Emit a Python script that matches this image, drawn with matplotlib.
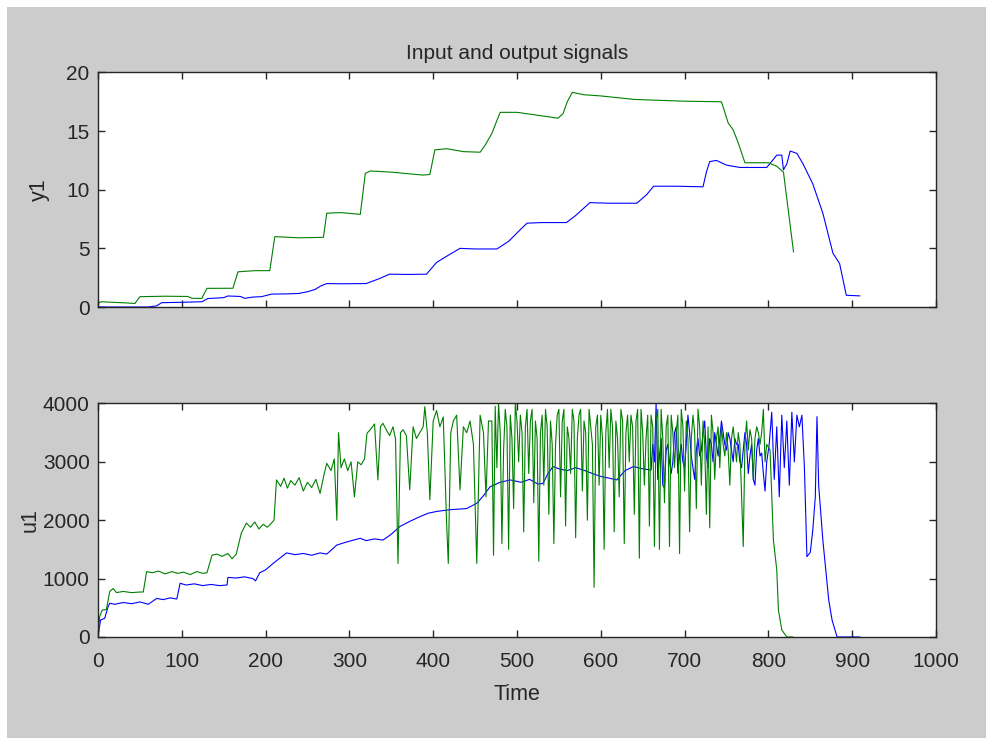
import matplotlib
matplotlib.use("Agg")
import matplotlib.pyplot as plt
from matplotlib.patches import Rectangle

# output signals (top panel)
t_y_green = [0, 4, 36, 44, 50, 80, 107, 112, 124, 130, 161, 167, 187, 205, 211, 226, 240,
             269, 273, 290, 313, 319, 325, 350, 388, 396, 402, 416, 436, 456, 462, 470,
             476, 480, 500, 520, 549, 555, 560, 566, 580, 600, 640, 700, 744, 752, 758,
             764, 772, 800, 810, 818, 830]
y_green = [0.31, 0.45, 0.34, 0.3, 0.88, 0.92, 0.9, 0.74, 0.74, 1.59, 1.6, 3.0, 3.1, 3.1,
           6.0, 5.95, 5.9, 5.94, 8.0, 8.05, 7.9, 11.4, 11.6, 11.5, 11.25, 11.3, 13.4, 13.5,
           13.25, 13.2, 13.8, 14.8, 15.9, 16.6, 16.6, 16.4, 16.1, 16.5, 17.5, 18.3, 18.1,
           18.0, 17.7, 17.55, 17.5, 15.7, 15.1, 14.0, 12.3, 12.3, 12.0, 11.5, 4.7]

t_y_blue = [0, 60, 70, 76, 100, 124, 131, 150, 155, 170, 175, 185, 195, 207, 225, 239, 250,
            259, 266, 273, 290, 320, 335, 348, 370, 392, 404, 420, 432, 450, 476, 490, 504,
            512, 530, 559, 570, 587, 610, 643, 655, 663, 690, 722, 726, 730, 738, 750, 766,
            798, 805, 810, 816, 818, 822, 826, 834, 841, 853, 865, 877, 885, 893, 909]
y_blue = [0, 0, 0.1, 0.37, 0.4, 0.45, 0.72, 0.8, 0.94, 0.9, 0.74, 0.85, 0.88, 1.1, 1.12,
          1.15, 1.3, 1.5, 1.8, 2.0, 1.98, 2.0, 2.4, 2.8, 2.78, 2.8, 3.8, 4.5, 5.0, 4.95, 4.95,
          5.6, 6.6, 7.15, 7.2, 7.2, 7.8, 8.9, 8.85, 8.85, 9.6, 10.3, 10.3, 10.25, 11.5, 12.4,
          12.5, 12.1, 11.9, 11.9, 12.5, 12.95, 12.95, 11.7, 12.2, 13.3, 13.1, 12.25, 10.5,
          8.0, 4.6, 3.7, 1.0, 0.95]

# input signals (bottom panel): hand-read start, 2-step sampled noisy middle, end
t_u_green_a = [0, 2, 5, 10, 14, 18, 22, 30, 40, 50, 54, 58, 65, 72, 80, 88, 95, 102, 110,
               118, 125, 130, 136, 142, 148, 155, 160, 165, 171, 177, 182, 187, 192, 197,
               202, 207, 210, 213, 218, 222, 226, 230, 235, 240, 245, 250, 255, 260, 265,
               270, 273, 278, 282, 285, 287, 290, 294, 298, 302, 306, 310, 314, 318, 321,
               325, 330, 334, 337, 340, 344, 348, 352, 355, 358, 361, 364, 368, 372, 376,
               380, 384, 388, 390, 393, 396, 400, 404, 408, 412, 416, 418, 421, 424, 428,
               432, 436, 440, 444, 448, 452, 456, 460, 463, 466]
u_green_a = [0, 350, 460, 470, 780, 830, 760, 780, 760, 770, 770, 1120, 1100, 1130, 1080,
             1120, 1090, 1110, 1070, 1120, 1090, 1100, 1400, 1420, 1380, 1430, 1340, 1420,
             1780, 1950, 1880, 1970, 1850, 1930, 1880, 1950, 2000, 2690, 2580, 2720, 2550,
             2680, 2600, 2730, 2500, 2650, 2560, 2700, 2460, 2800, 2975, 2850, 3050, 2000,
             3500, 2900, 3050, 2850, 3000, 2400, 3000, 2950, 3050, 3490, 3550, 3650, 2690,
             3600, 3660, 3550, 3450, 3600, 3400, 1260, 3500, 3550, 3450, 2520, 3600, 3400,
             3500, 3600, 3945, 3500, 2350, 3700, 3880, 3600, 3770, 1950, 1260, 3500, 3700,
             3800, 2520, 3600, 3500, 3700, 3300, 1260, 3800, 3500, 2400, 3700]
t_u_green_b = list(range(470, 800, 2))
u_green_b = [3700, 1400, 3950, 2900, 4000, 3500, 1600, 3200, 3900, 3600,
             1500, 3800, 3400, 2200, 4000, 3700, 3000, 3800, 3500, 1800,
             3600, 3900, 2800, 3700, 3900, 2300, 3700, 3400, 1300, 3500,
             3800, 2600, 3900, 3600, 2100, 3700, 3300, 1600, 3300, 3800,
             3900, 2400, 3700, 3900, 1900, 3600, 3400, 2800, 3900, 3700,
             1700, 3400, 3800, 3900, 2500, 3700, 3500, 2000, 3900, 3600,
             3300, 850, 3600, 3800, 2600, 3800, 3400, 1500, 3500, 3900,
             2900, 3900, 3600, 1800, 3700, 3400, 2400, 3900, 3700, 1600,
             3500, 3800, 3000, 3800, 3600, 2100, 3700, 3900, 1350, 3900,
             3500, 2600, 3400, 3800, 1900, 3800, 3600, 1550, 3700, 3900,
             1500, 3900, 3400, 2300, 3600, 3800, 1550, 3800, 3500, 2900,
             3500, 3800, 1430, 3900, 3600, 2500, 3700, 3400, 1800, 3400,
             3800, 3500, 2200, 3900, 3600, 2600, 3700, 3300, 2100, 3600,
             1870, 3800, 3500, 2700, 3400, 3600, 2900, 3600, 3300, 3100,
             3500, 3200, 2600, 3400, 3600, 3300, 3000, 3500, 3300, 2400,
             1550, 3300, 3700, 3200, 3550, 3400, 2700, 3400, 3600, 3500,
             3300, 3500, 3900, 3000, 3300]
t_u_green_c = [802, 806, 810, 812, 816, 822, 829]
u_green_c = [3200, 1660, 1150, 460, 120, 0, 0]

t_u_blue_a = [0, 3, 8, 12, 14, 20, 30, 40, 50, 60, 62, 70, 78, 86, 94, 98, 105, 115, 125,
              135, 145, 154, 155, 165, 175, 185, 188, 193, 200, 209, 217, 225, 235, 245,
              255, 265, 273, 285, 295, 305, 313, 320, 330, 340, 350, 360, 372, 384, 394,
              404, 420, 440, 452, 460, 468, 480, 492, 505, 515, 525, 531, 537, 543, 550,
              560, 570, 579, 590, 600, 610, 619, 629, 639, 650]
u_blue_a = [0, 290, 320, 520, 577, 560, 590, 570, 600, 560, 580, 660, 640, 670, 650, 920,
            890, 910, 880, 900, 880, 890, 1020, 1010, 1030, 1000, 960, 1100, 1150, 1260,
            1350, 1440, 1410, 1430, 1400, 1440, 1420, 1575, 1620, 1660, 1690, 1650, 1680,
            1660, 1760, 1890, 1980, 2060, 2120, 2150, 2180, 2200, 2290, 2420, 2575, 2650,
            2690, 2650, 2700, 2620, 2630, 2800, 2920, 2880, 2850, 2900, 2860, 2800, 2750,
            2720, 2690, 2850, 2920, 2880]
t_u_blue_b = list(range(660, 800, 2))
u_blue_b = [2860, 3300, 3000, 4000, 2700, 3100, 3400, 2600, 2550, 3200,
            3300, 3000, 2800, 3000, 3500, 3600, 2800, 3100, 3300, 3000,
            2900, 3300, 3800, 3500, 3100, 2900, 2700, 3200, 3400, 3100,
            3200, 3500, 3700, 3100, 2900, 3400, 3300, 3000, 3500, 3300,
            3100, 3400, 3700, 3500, 3300, 3200, 3500, 3400, 3200, 3000,
            3400, 3300, 3300, 3000, 2900, 3200, 3500, 3300, 2800, 3100,
            3300, 2700, 2600, 3200, 3400, 3100, 3150, 2800, 2500, 3000]
t_u_blue_c = [801, 804, 807, 810, 813, 816, 819, 822, 825, 828, 831, 834, 837, 840, 843,
              846, 850, 853, 856, 858, 860, 862, 865, 870, 872, 876, 882, 909]
u_blue_c = [3300, 3850, 2700, 3600, 2400, 3800, 2900, 3700, 2600, 3850, 3000, 3800, 3600,
            3800, 2900, 1375, 1450, 1830, 2400, 3775, 2600, 2230, 1660, 920, 634, 290, 0, 0]

t_u_green = t_u_green_a + t_u_green_b + t_u_green_c
u_green = u_green_a + u_green_b + u_green_c
t_u_blue = t_u_blue_a + t_u_blue_b + t_u_blue_c
u_blue = u_blue_a + u_blue_b + u_blue_c

blue = (0, 0, 1)
green = (0, 0.5, 0)
edge = '#262626'

plt.rcParams['font.family'] = ['Liberation Sans', 'DejaVu Sans']

fig = plt.figure(figsize=(9.87, 7.38), dpi=100, facecolor='#cccccc')
fig.patches.append(Rectangle((0, 1 - 7 / 738), 1, 7 / 738, transform=fig.transFigure,
                             facecolor='white', edgecolor='none'))
fig.patches.append(Rectangle((0, 0), 7 / 987, 1, transform=fig.transFigure,
                             facecolor='white', edgecolor='none'))

ax1 = fig.add_axes([0.0993, 0.584, 0.849, 0.3178])
ax2 = fig.add_axes([0.0993, 0.1369, 0.849, 0.3164])

ax1.plot(t_y_blue, y_blue, color=blue, lw=0.8)
ax1.plot(t_y_green, y_green, color=green, lw=0.8)
ax2.plot(t_u_blue, u_blue, color=blue, lw=0.8)
ax2.plot(t_u_green, u_green, color=green, lw=0.8)

ax1.set_ylim(0, 20)
ax1.set_yticks([0, 5, 10, 15, 20])
ax1.set_xticklabels([])
ax1.set_ylabel('y1', fontsize=15.5, color=edge)
ax1.yaxis.set_label_coords(-0.058, 0.5)
ax1.set_title('Input and output signals', fontsize=15, color=edge, pad=9.5)

ax2.set_ylim(0, 4000)
ax2.set_yticks([0, 1000, 2000, 3000, 4000])
ax2.set_ylabel('u1', fontsize=15.5, color=edge)
ax2.yaxis.set_label_coords(-0.068, 0.5)
ax2.set_xlabel('Time', fontsize=15.5, color=edge, labelpad=9)

for ax in (ax1, ax2):
    ax.set_xlim(0, 1000)
    ax.set_xticks(range(0, 1001, 100))
    ax.set_facecolor('white')
    ax.tick_params(direction='in', length=5, width=1, top=True, right=True,
                   labelsize=15, colors=edge, pad=6)
    ax.tick_params(axis='x', pad=11)
    for s in ax.spines.values():
        s.set_color(edge)
        s.set_linewidth(1)

fig.savefig('out.png', dpi=100, facecolor=fig.get_facecolor())
